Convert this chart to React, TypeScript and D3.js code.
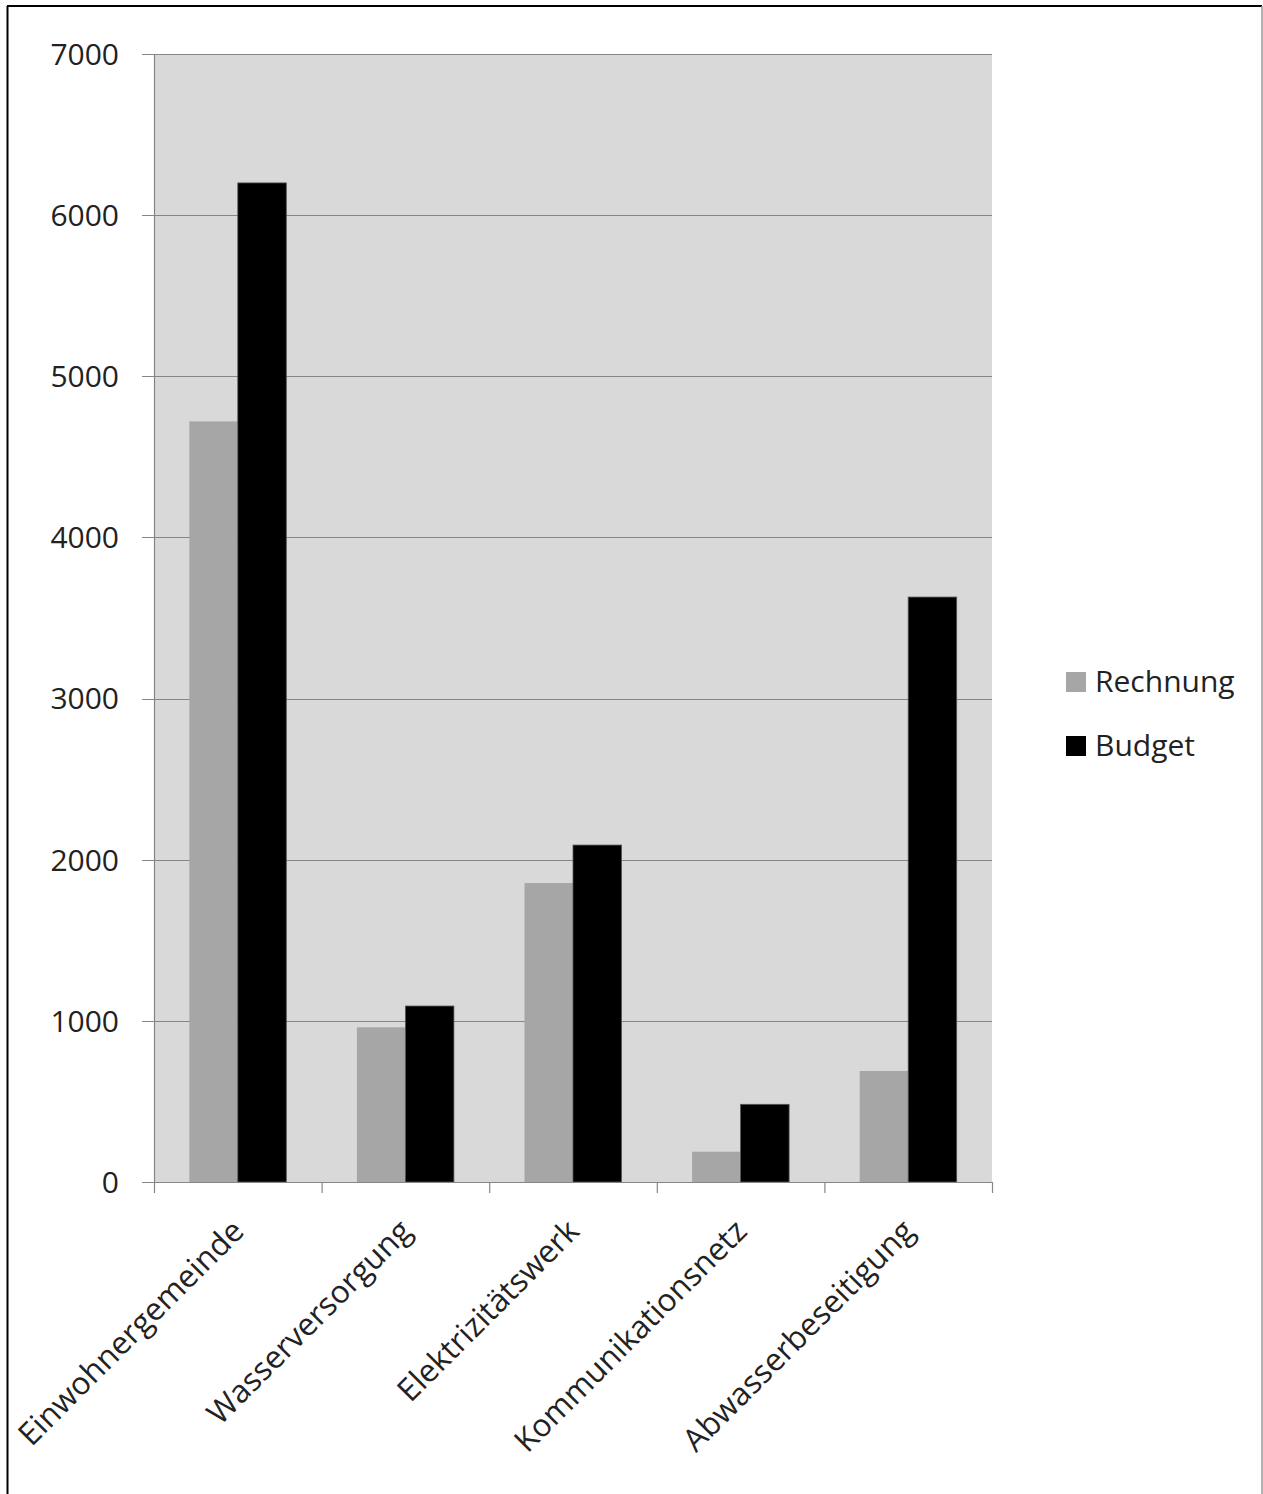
import React from "react";
import * as d3 from "d3";

const categories = [
  "Einwohnergemeinde",
  "Wasserversorgung",
  "Elektrizitätswerk",
  "Kommunikationsnetz",
  "Abwasserbeseitigung",
];
const seriesNames = ["Rechnung", "Budget"];
const rechnung = [4720, 960, 1855, 188, 689];
const budget = [6200, 1092, 2091, 482, 3630];
const yTicks = [0, 1000, 2000, 3000, 4000, 5000, 6000, 7000];
const seriesColors = ["#a6a6a6", "#000000"];

const W = 1263;
const H = 1494;
const plot = { left: 154, right: 992, top: 54, bottom: 1182 };
const FONT = "'Open Sans', sans-serif";

export default function App() {
  const x = d3
    .scaleBand<string>()
    .domain(categories)
    .range([plot.left, plot.right])
    .paddingInner(0)
    .paddingOuter(0);
  const inner = d3
    .scaleBand<string>()
    .domain(seriesNames)
    .range([0, x.bandwidth()])
    .paddingInner(0)
    .paddingOuter(0.728);
  const y = d3.scaleLinear().domain([0, 7000]).range([plot.bottom, plot.top]);
  const values = [rechnung, budget];
  const gridColor = "#868686";

  const xTickPositions = categories.map((c) => x(c)!).concat([plot.right]);

  return (
    <svg
      width={W}
      height={H}
      style={{ position: "absolute", left: 0, top: 0, background: "#fff" }}
    >
      {/* outer frame */}
      <line x1={7} y1={6} x2={1262} y2={6} stroke="#000" strokeWidth={2} />
      <line x1={7.5} y1={6} x2={7.5} y2={H} stroke="#000" strokeWidth={2} />
      <line x1={1262} y1={6} x2={1262} y2={H} stroke="#999" strokeWidth={1.5} />

      {/* plot area */}
      <rect
        x={plot.left}
        y={plot.top}
        width={plot.right - plot.left}
        height={plot.bottom - plot.top}
        fill="#d9d9d9"
      />
      {yTicks.map((t) => (
        <g key={t}>
          <line
            x1={plot.left - 12}
            x2={plot.right}
            y1={Math.round(y(t)) + 0.5}
            y2={Math.round(y(t)) + 0.5}
            stroke={gridColor}
            strokeWidth={1.2}
          />
          <text
            x={119}
            y={y(t)}
            dy="0.36em"
            textAnchor="end"
            fontFamily={FONT}
            fontSize={30}
            fill="#222"
          >
            {t}
          </text>
        </g>
      ))}
      {/* y axis */}
      <line
        x1={plot.left + 0.5}
        x2={plot.left + 0.5}
        y1={plot.top}
        y2={plot.bottom}
        stroke={gridColor}
        strokeWidth={1.2}
      />
      {/* bars */}
      {categories.map((c, i) => (
        <g key={c}>
          {seriesNames.map((s, j) => (
            <rect
              key={s}
              x={x(c)! + inner(s)!}
              y={y(values[j][i])}
              width={inner.bandwidth()}
              height={y(0) - y(values[j][i])}
              fill={seriesColors[j]}
              stroke={j === 1 ? "#555" : "none"}
              strokeWidth={0.8}
            />
          ))}
        </g>
      ))}
      {/* x axis */}
      <line
        x1={plot.left - 12}
        x2={plot.right}
        y1={plot.bottom + 0.5}
        y2={plot.bottom + 0.5}
        stroke={gridColor}
        strokeWidth={1.2}
      />
      {xTickPositions.map((p, i) => (
        <line
          key={i}
          x1={p + 0.5}
          x2={p + 0.5}
          y1={plot.bottom}
          y2={plot.bottom + 11}
          stroke={gridColor}
          strokeWidth={1.2}
        />
      ))}
      {categories.map((c) => {
        const cx = x(c)! + x.bandwidth() / 2 + 8;
        const cy = plot.bottom + 51;
        return (
          <text
            key={c}
            transform={`translate(${cx},${cy}) rotate(-45)`}
            textAnchor="end"
            fontFamily={FONT}
            fontSize={31.5}
            fill="#222"
          >
            {c}
          </text>
        );
      })}
      {/* legend */}
      {seriesNames.map((s, j) => (
        <g key={s} transform={`translate(1066,${672 + j * 64})`}>
          <rect x={0} y={0} width={20} height={20} fill={seriesColors[j]} />
          <text
            x={29}
            y={20}
            fontFamily={FONT}
            fontSize={30}
            fill="#222"
          >
            {s}
          </text>
        </g>
      ))}
    </svg>
  );
}
